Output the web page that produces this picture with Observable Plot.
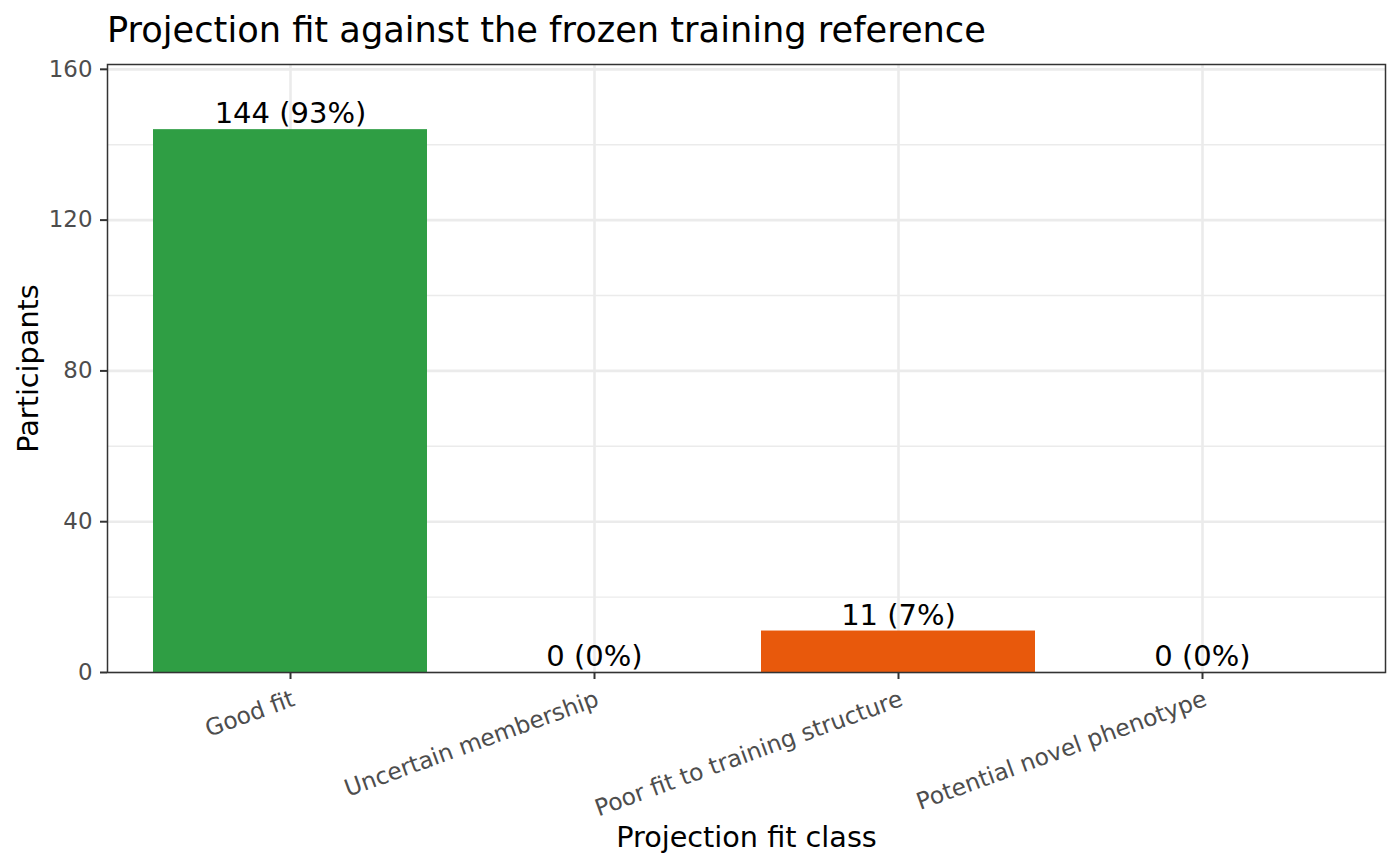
<!DOCTYPE html>
<html>
<head>
<meta charset="utf-8">
<script src="https://cdn.jsdelivr.net/npm/d3@7"></script>
<script src="https://cdn.jsdelivr.net/npm/@observablehq/plot@0.6"></script>
<style>
  html, body { margin: 0; padding: 0; background: #fff; }
  #wrap { position: relative; width: 1400px; height: 866px; }
  #title { position: absolute; left: 107px; top: 12px; font-family: "DejaVu Sans"; font-size: 35.2px; line-height: 1; color: #000; white-space: nowrap; }
</style>
</head>
<body>
<div id="wrap">
  <div id="chart"></div>
  <div id="title">Projection fit against the frozen training reference</div>
</div>
<script>
const categories = ["Good fit", "Uncertain membership", "Poor fit to training structure", "Potential novel phenotype"];
const counts = [144, 0, 11, 0];
const percents = [93, 0, 7, 0];
const yTicks = [0, 40, 80, 120, 160];
const yMinorTicks = [20, 60, 100, 140];
const colors = ["#2f9e44", "#f59f00", "#e8590c", "#7048e8"];

const data = categories.map((c, i) => ({cls: c, n: counts[i], label: `${counts[i]} (${percents[i]}%)`}));

const chart = Plot.plot({
  width: 1400,
  height: 866,
  marginTop: 64,
  marginBottom: 194,
  marginLeft: 107,
  marginRight: 15,
  style: {fontFamily: "DejaVu Sans", background: "#fff", overflow: "visible"},
  x: {type: "band", domain: categories, paddingInner: 0.1, paddingOuter: 0.15, align: 0.5, label: null},
  y: {domain: [0, 144 * 1.12], label: null},
  color: {domain: categories, range: colors},
  marks: [
    Plot.gridY(yMinorTicks, {stroke: "#ebebeb", strokeOpacity: 1, strokeWidth: 1.4}),
    Plot.gridY(yTicks, {stroke: "#ebebeb", strokeOpacity: 1, strokeWidth: 2.6}),
    Plot.gridX(categories, {stroke: "#ebebeb", strokeOpacity: 1, strokeWidth: 2.6}),
    Plot.barY(data, {x: "cls", y: "n", fill: "cls"}),
    Plot.text(data, {x: "cls", y: "n", text: "label", lineAnchor: "bottom", dy: -6.5, fontSize: 29, fill: "#000"}),
    Plot.frame({stroke: "#333333", strokeWidth: 1.5}),
    Plot.axisY({ticks: yTicks, tickSize: 7, tickPadding: 8, fontSize: 22.9, stroke: "#333333", strokeWidth: 2, fill: "#4d4d4d", label: null}),
    Plot.axisX({tickSize: 7, stroke: "#333333", strokeWidth: 2, tickFormat: () => "", label: null}),
    Plot.text(categories, {x: d => d, frameAnchor: "bottom", rotate: -20, textAnchor: "end", lineAnchor: "top", dx: 0, dy: 17, fontSize: 23.4, fill: "#4d4d4d"}),
    Plot.text(["Participants"], {frameAnchor: "left", rotate: -90, textAnchor: "middle", lineAnchor: "bottom", dx: -70, fontSize: 28.7, fill: "#000"}),
    Plot.text(["Projection fit class"], {frameAnchor: "bottom", textAnchor: "middle", lineAnchor: "bottom", dy: 174, fontSize: 28.7, fill: "#000"})
  ]
});
document.getElementById("chart").appendChild(chart);
</script>
</body>
</html>
